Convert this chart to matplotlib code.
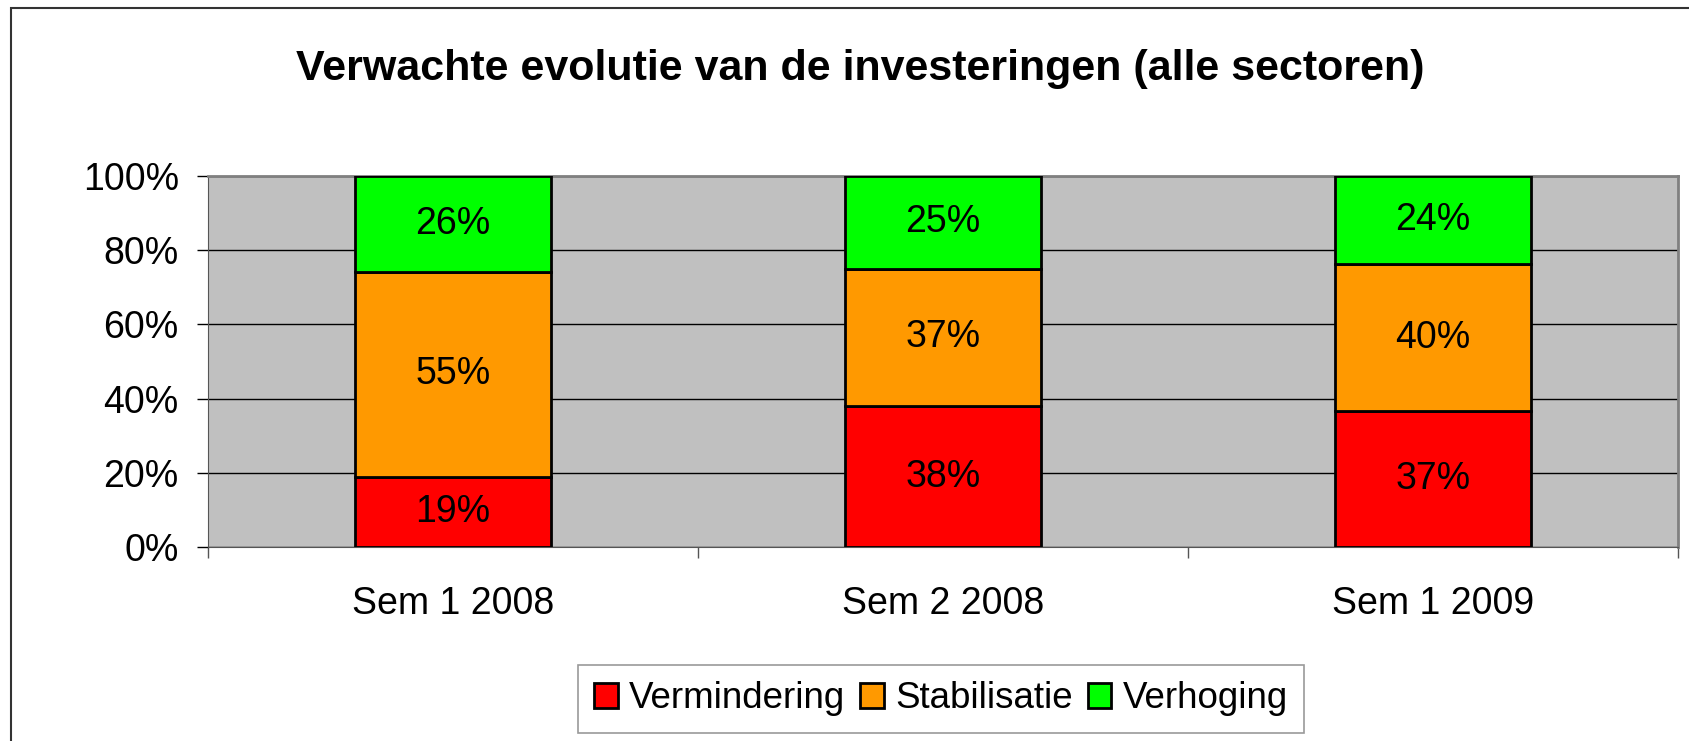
import matplotlib.pyplot as plt
from matplotlib.patches import Rectangle
import numpy as np

plt.rcParams['font.family'] = ['Liberation Sans', 'DejaVu Sans']

periods = ["Sem 1 2008", "Sem 2 2008", "Sem 1 2009"]
series = ["Vermindering", "Stabilisatie", "Verhoging"]
vermindering = [19, 38, 37]
stabilisatie = [55, 37, 40]
verhoging = [26, 25, 24]
colors = ["#FF0000", "#FF9900", "#00FF00"]

values = np.array([vermindering, stabilisatie, verhoging], dtype=float)
shares = values / values.sum(axis=0) * 100  # 100% stacked

fig = plt.figure(figsize=(16.9, 7.41), dpi=100)
ax = fig.add_axes([208 / 1690, 1 - 547 / 741, 1470 / 1690, 371 / 741])

# outer chart frame (cut off on right and bottom)
fig.patches.append(Rectangle((11 / 1690, -0.05), 1.1, 1.05 - 8 / 741,
                             transform=fig.transFigure, fill=False,
                             edgecolor="#333333", linewidth=1.5))

x = np.arange(len(periods))
bottom = np.zeros(len(periods))
for name, share, raw, col in zip(series, shares, values, colors):
    ax.bar(x, share, width=0.4, bottom=bottom, color=col, edgecolor="black",
           linewidth=2, label=name, zorder=3)
    for xi, b, s, r in zip(x, bottom, share, raw):
        ax.text(xi, b + s / 2, f"{r:.0f}%", ha="center", va="center",
                fontsize=27, zorder=4)
    bottom += share

ax.set_facecolor("#C0C0C0")
ax.set_xlim(-0.5, 2.5)
ax.set_ylim(0, 100)
ax.set_yticks(np.arange(0, 101, 20))
ax.set_yticklabels([f"{v}%" for v in range(0, 101, 20)])
ax.yaxis.grid(True, color="black", linewidth=1.0, zorder=1)
ax.set_axisbelow(True)

ax.set_xticks(x)
ax.set_xticklabels(periods)
ax.set_xticks([-0.5, 0.5, 1.5, 2.5], minor=True)
ax.tick_params(axis="x", which="major", length=0, pad=28, labelsize=27)
ax.tick_params(axis="x", which="minor", length=8, width=1, color="#555555")
ax.tick_params(axis="y", length=8, width=1, color="black", pad=13, labelsize=27)

for side in ["top", "right"]:
    ax.spines[side].set_color("#808080")
    ax.spines[side].set_linewidth(2)
ax.spines["left"].set_color("#555555")
ax.spines["bottom"].set_color("#555555")

fig.text(0.509, 1 - 69 / 741, "Verwachte evolutie van de investeringen (alle sectoren)",
         ha="center", va="center", fontsize=31, fontweight="bold")

leg = fig.legend(loc="center", bbox_to_anchor=(941 / 1690, 1 - 699 / 741), ncol=3,
                 fontsize=26.5, frameon=True, fancybox=False, edgecolor="#808080",
                 handlelength=0.65, handleheight=0.65, handletextpad=0.3,
                 columnspacing=0.4, borderpad=0.45, borderaxespad=0)
leg.get_frame().set_linewidth(1.2)
for h in leg.legend_handles:
    h.set_linewidth(2)

fig.savefig("out.png", dpi=100)
